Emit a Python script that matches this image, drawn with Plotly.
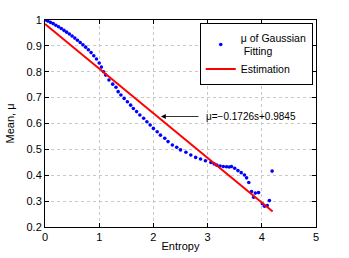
import plotly.graph_objects as go

# Data
entropy = [0.00, 0.05, 0.10, 0.15, 0.20, 0.25, 0.30, 0.35, 0.40, 0.45,
           0.50, 0.55, 0.60, 0.65, 0.70, 0.75, 0.80, 0.85, 0.90, 0.95,
           1.00, 1.04, 1.08, 1.12, 1.18, 1.25, 1.31, 1.35, 1.40, 1.46,
           1.52, 1.58, 1.63, 1.69, 1.75, 1.82, 1.88, 1.94, 2.00, 2.07,
           2.13, 2.21, 2.27, 2.35, 2.43, 2.50, 2.60, 2.69, 2.78, 2.87,
           2.96, 3.06, 3.12, 3.17, 3.23, 3.29, 3.35, 3.40, 3.44, 3.50,
           3.56, 3.62, 3.68, 3.72, 3.76, 3.81, 3.85, 3.88, 3.94, 4.01,
           4.05, 4.10, 4.14, 4.19]
mu_fit = [1.000, 0.996, 0.991, 0.986, 0.980, 0.974, 0.967, 0.960, 0.953, 0.946,
          0.938, 0.930, 0.922, 0.913, 0.904, 0.895, 0.885, 0.874, 0.862, 0.849,
          0.834, 0.818, 0.800, 0.787, 0.768, 0.752, 0.740, 0.723, 0.710, 0.697,
          0.684, 0.671, 0.658, 0.646, 0.633, 0.620, 0.607, 0.594, 0.581, 0.568,
          0.555, 0.543, 0.530, 0.517, 0.508, 0.498, 0.489, 0.478, 0.469, 0.463,
          0.456, 0.449, 0.444, 0.439, 0.436, 0.434, 0.433, 0.432, 0.434, 0.427,
          0.418, 0.410, 0.401, 0.390, 0.372, 0.337, 0.315, 0.331, 0.333, 0.290,
          0.280, 0.283, 0.302, 0.416]
est_s = [0.0, 4.2]
est_mu = [0.9845, 0.9845 - 0.1726 * 4.2]
x_ticks = [0, 1, 2, 3, 4, 5]
y_ticks = [0.2, 0.3, 0.4, 0.5, 0.6, 0.7, 0.8, 0.9, 1.0]
y_tick_text = ["0.2", "0.3", "0.4", "0.5", "0.6", "0.7", "0.8", "0.9", "1"]

FONT = "Liberation Sans, Arial, Helvetica, sans-serif"

fig = go.Figure()
fig.add_trace(go.Scatter(x=entropy, y=mu_fit, mode="markers",
                         marker=dict(color="#0000ff", size=3.6),
                         name="μ of Gaussian<br> Fitting"))
fig.add_trace(go.Scatter(x=est_s, y=est_mu, mode="lines",
                         line=dict(color="#ff0000", width=2),
                         name="Estimation"))

# arrow
fig.add_annotation(x=2.14, y=0.627, ax=2.86, ay=0.627, xref="x", yref="y",
                   axref="x", ayref="y", text="", showarrow=True,
                   arrowhead=2, arrowsize=1.2, arrowwidth=0.8,
                   arrowcolor="black", standoff=0)
fig.add_annotation(x=2.93, y=0.627, xref="x", yref="y", text="μ=−0.1726s+0.9845",
                   showarrow=False, xanchor="left", yanchor="middle",
                   font=dict(family=FONT, size=10, color="black"))

axis_common = dict(showline=True, linecolor="black", linewidth=1, mirror="ticks",
                   ticks="inside", ticklen=4, tickcolor="black", automargin=False,
                   showgrid=True, gridcolor="#c8c8c8", griddash="dot", gridwidth=1,
                   zeroline=False, tickfont=dict(family=FONT, size=11, color="black"))

fig.update_xaxes(range=[0, 5], tickvals=x_ticks,
                 title=dict(text="Entropy", font=dict(family=FONT, size=11, color="black"),
                            standoff=0),
                 **axis_common)
fig.update_yaxes(range=[0.2, 1.0], tickvals=y_ticks, ticktext=y_tick_text,
                 title=dict(text="Mean, μ", font=dict(family=FONT, size=11, color="black"),
                            standoff=9),
                 **axis_common)

fig.update_layout(
    width=349, height=258,
    margin=dict(l=45, r=33, t=20, b=31, autoexpand=False),
    paper_bgcolor="white", plot_bgcolor="white",
    showlegend=True,
    legend=dict(x=0.988, y=0.984, xanchor="right", yanchor="top",
                bgcolor="white", bordercolor="black", borderwidth=1,
                font=dict(family=FONT, size=10.5, color="black"),
                itemwidth=30, tracegroupgap=0),
)

fig.write_html("out.html", config={"displayModeBar": False},
               post_script="document.body.style.margin='0';")
